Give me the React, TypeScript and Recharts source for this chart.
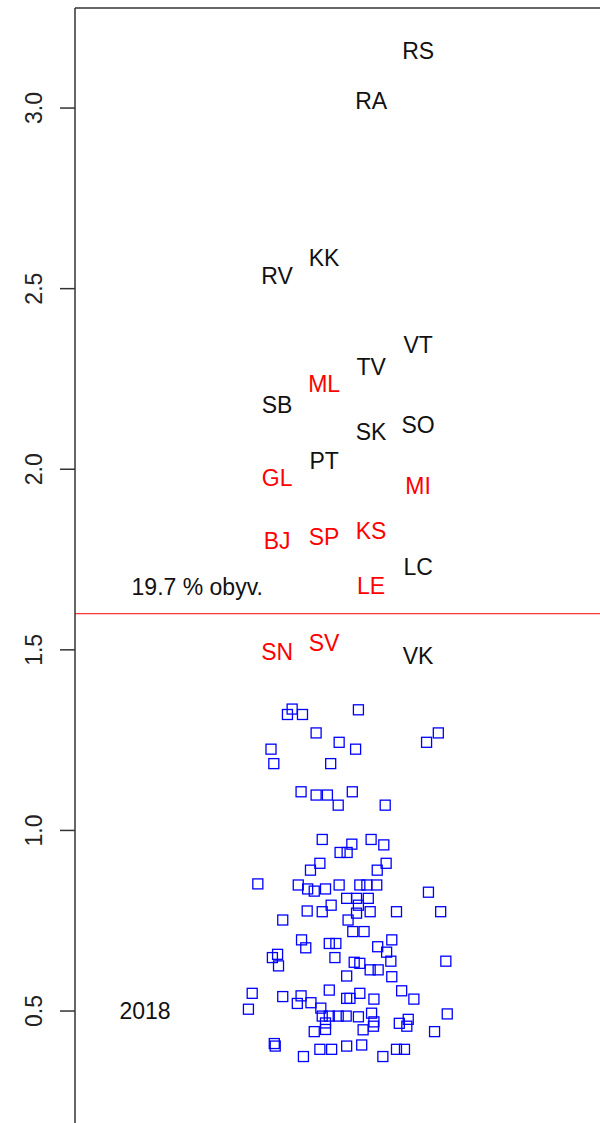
import React from "react";
import {
  ScatterChart,
  Scatter,
  XAxis,
  YAxis,
  ReferenceLine,
} from "recharts";

// blue squares (jittered x, index value y)
const pointX = [
  1.32, 1.22, 1.54, 2.73, 1.83, 4.43, 4.18, 2.32, 0.87, 2.67, 0.93, 2.14,
  1.51, 1.83, 2.07, 2.6, 2.3, 3.3, 1.96, 2.59, 3.0, 3.27, 2.34, 2.49, 1.91,
  1.71, 3.32, 3.13, 0.59, 1.45, 1.65, 1.79, 2.03, 2.32, 2.76, 2.91, 3.12,
  2.48, 2.69, 2.94, 4.22, 2.15, 2.73, 1.64, 1.96, 2.69, 2.98, 3.54, 4.48,
  1.12, 2.51, 2.61, 2.85, 1.52, 1.61, 2.11, 2.25, 3.14, 3.44, 1.01, 0.9,
  2.23, 3.33, 3.42, 2.64, 2.76, 4.59, 1.03, 2.98, 3.15, 3.44, 2.48, 0.47,
  0.39, 1.12, 1.51, 1.43, 1.72, 1.93, 2.11, 2.48, 2.55, 2.76, 3.06, 3.65,
  3.91, 1.96, 2.11, 2.3, 2.47, 2.73, 3.01, 3.06, 3.05, 3.6, 3.79, 3.76,
  4.62, 4.35, 1.79, 2.03, 2.03, 2.83, 0.96, 1.91, 2.16, 2.48, 2.8, 1.56,
  3.25, 3.54, 3.71, 0.94,
];
const pointY = [
  1.336, 1.321, 1.321, 1.334, 1.27, 1.27, 1.244, 1.244, 1.225, 1.225, 1.185,
  1.185, 1.107, 1.098, 1.098, 1.107, 1.07, 1.07, 0.975, 0.962, 0.975, 0.96,
  0.939, 0.939, 0.909, 0.89, 0.909, 0.89, 0.852, 0.849, 0.838, 0.832, 0.838,
  0.849, 0.849, 0.849, 0.849, 0.812, 0.812, 0.812, 0.829, 0.793, 0.793,
  0.777, 0.775, 0.771, 0.775, 0.775, 0.775, 0.752, 0.752, 0.72, 0.72, 0.697,
  0.675, 0.687, 0.687, 0.678, 0.697, 0.657, 0.648, 0.648, 0.663, 0.638,
  0.635, 0.632, 0.638, 0.625, 0.614, 0.614, 0.595, 0.597, 0.549, 0.505,
  0.54, 0.542, 0.521, 0.523, 0.508, 0.558, 0.535, 0.535, 0.549, 0.533,
  0.556, 0.533, 0.486, 0.486, 0.486, 0.486, 0.484, 0.494, 0.47, 0.458,
  0.466, 0.477, 0.458, 0.492, 0.443, 0.443, 0.449, 0.467, 0.448, 0.403,
  0.394, 0.394, 0.403, 0.406, 0.374, 0.374, 0.394, 0.394, 0.41,
];

// region codes drawn in black
const blackNames = ["RS", "RA", "RV", "KK", "VT", "TV", "SB", "SK", "SO", "PT", "LC", "VK"];
const blackX = [4, 3, 1, 2, 4, 3, 1, 3, 4, 2, 4, 4];
const blackY = [3.158, 3.019, 2.535, 2.587, 2.344, 2.283, 2.18, 2.103, 2.122, 2.023, 1.729, 1.483];

// region codes drawn in red
const redNames = ["ML", "GL", "MI", "KS", "SP", "BJ", "LE", "SN", "SV"];
const redX = [2, 1, 4, 3, 2, 1, 3, 1, 2];
const redY = [2.236, 1.976, 1.953, 1.829, 1.812, 1.801, 1.677, 1.494, 1.519];

const noteTexts = ["19.7 % obyv.", "2018"];
const noteX = [-0.7, -1.81];
const noteY = [1.674, 0.5];

const threshold = 1.6;
const yTicks = [0.5, 1.0, 1.5, 2.0, 2.5, 3.0];

const squares = pointX.map((x, i) => ({ x, y: pointY[i] }));
const blackLabels = blackNames.map((name, i) => ({ name, x: blackX[i], y: blackY[i] }));
const redLabels = redNames.map((name, i) => ({ name, x: redX[i], y: redY[i] }));
const notes = noteTexts.map((name, i) => ({ name, x: noteX[i], y: noteY[i] }));

const FONT = "'Liberation Sans', Arial, sans-serif";

const SquareShape = (props: any) => {
  const { cx, cy } = props;
  if (cx == null || cy == null) return null;
  return (
    <rect
      x={cx - 5}
      y={cy - 5}
      width={10}
      height={10}
      fill="none"
      stroke="#0000ff"
      strokeWidth={1.3}
    />
  );
};

const makeTextShape = (color: string) => (props: any) => {
  const { cx, cy, payload } = props;
  if (cx == null || cy == null) return null;
  return (
    <text
      x={cx}
      y={cy}
      dy="0.36em"
      textAnchor="middle"
      fontSize={23}
      fontFamily={FONT}
      fill={color}
    >
      {payload.name}
    </text>
  );
};

const YTick = (props: any) => {
  const { x, y, payload } = props;
  const tx = x - 16;
  return (
    <text
      x={tx}
      y={y}
      textAnchor="middle"
      fontSize={23}
      fontFamily={FONT}
      fill="#222"
      transform={`rotate(-90, ${tx}, ${y})`}
    >
      {Number(payload.value).toFixed(1)}
    </text>
  );
};

const App = () => {
  return (
    <div style={{ position: "absolute", left: 0, top: 0, background: "#fff" }}>
      <ScatterChart
        width={600}
        height={1123}
        margin={{ top: 0, right: 0, bottom: 0, left: 0 }}
      >
        <XAxis
          type="number"
          dataKey="x"
          orientation="top"
          domain={[-3.3, 7.87]}
          allowDataOverflow
          height={8}
          tick={false}
          tickLine={false}
          axisLine={{ stroke: "#333", strokeWidth: 1.5 }}
        />
        <YAxis
          type="number"
          dataKey="y"
          domain={[0.19, 3.277]}
          allowDataOverflow
          ticks={yTicks}
          width={75}
          tickSize={15}
          tick={<YTick />}
          tickLine={{ stroke: "#333", strokeWidth: 1.5 }}
          axisLine={{ stroke: "#333", strokeWidth: 1.5 }}
        />
        <ReferenceLine y={threshold} stroke="#ff0000" strokeWidth={1} />
        <Scatter data={squares} shape={SquareShape} isAnimationActive={false} />
        <Scatter data={blackLabels} shape={makeTextShape("#111")} isAnimationActive={false} />
        <Scatter data={redLabels} shape={makeTextShape("#ff0000")} isAnimationActive={false} />
        <Scatter data={notes} shape={makeTextShape("#111")} isAnimationActive={false} />
      </ScatterChart>
    </div>
  );
};

export default App;
